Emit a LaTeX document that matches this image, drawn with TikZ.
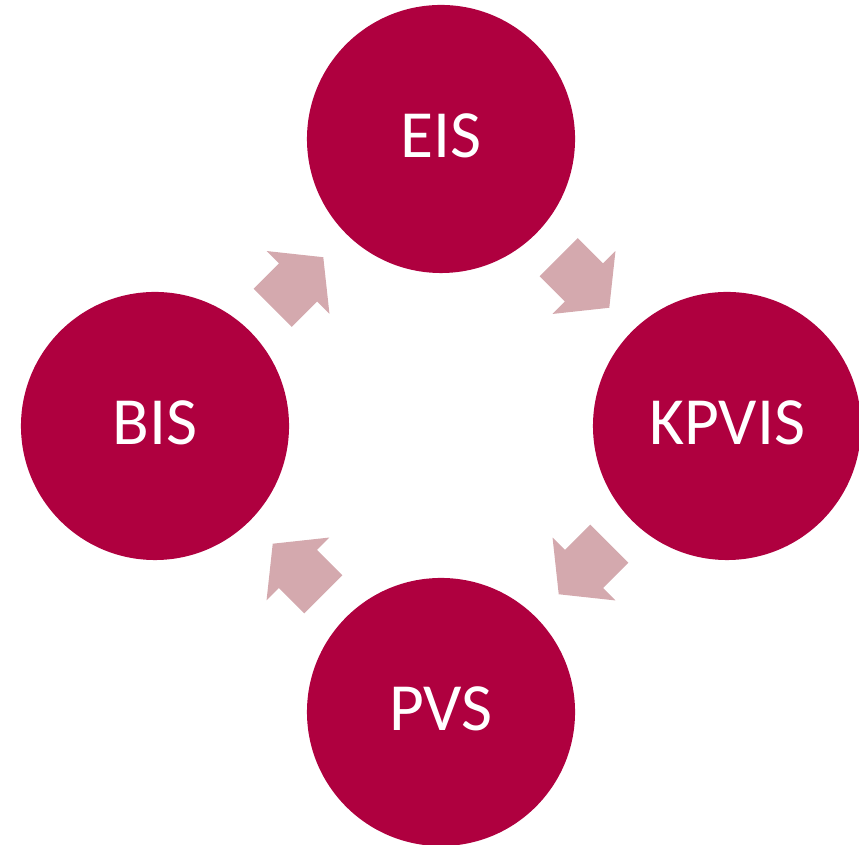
\documentclass[tikz,border=0pt]{standalone}
\usepackage{fontspec}
\setmainfont{Carlito}
\usetikzlibrary{calc}
\definecolor{cyclered}{RGB}{175,0,63}
\definecolor{cyclepink}{RGB}{212,169,174}

\tikzset{
  stage/.style={circle,fill=cyclered,minimum size=6.7cm,inner sep=0pt,
    text depth=0.15cm,text=white,font=\fontsize{48}{56}\selectfont},
  cyclearrow/.pic={
    \fill[cyclepink] (-35.75,-27) -- (0,-27) -- (0,-44.5) -- (35.75,0)
      -- (0,44.5) -- (0,27) -- (-35.75,27) -- cycle;}
}

\begin{document}
\begin{tikzpicture}[x=0.025cm,y=0.025cm]
  \useasboundingbox (0,0) rectangle (859,845);
  \clip (0,0) rectangle (859,845);

  \node[stage] (EIS) at (441,706) {EIS};
  \node[stage] (KPVIS) at (727,419) {KPVIS};
  \node[stage] (PVS) at (441,133) {PVS};
  \node[stage] (BIS) at (155,419) {BIS};

  % arrows between the stages, clockwise
  \pic[rotate=45] at ($(BIS)!0.5!(EIS)$) {cyclearrow};
  \pic[rotate=-45] at ($(EIS)!0.5!(KPVIS)$) {cyclearrow};
  \pic[rotate=-135] at ($(KPVIS)!0.5!(PVS)$) {cyclearrow};
  \pic[rotate=135] at ($(PVS)!0.5!(BIS)$) {cyclearrow};
\end{tikzpicture}
\end{document}
